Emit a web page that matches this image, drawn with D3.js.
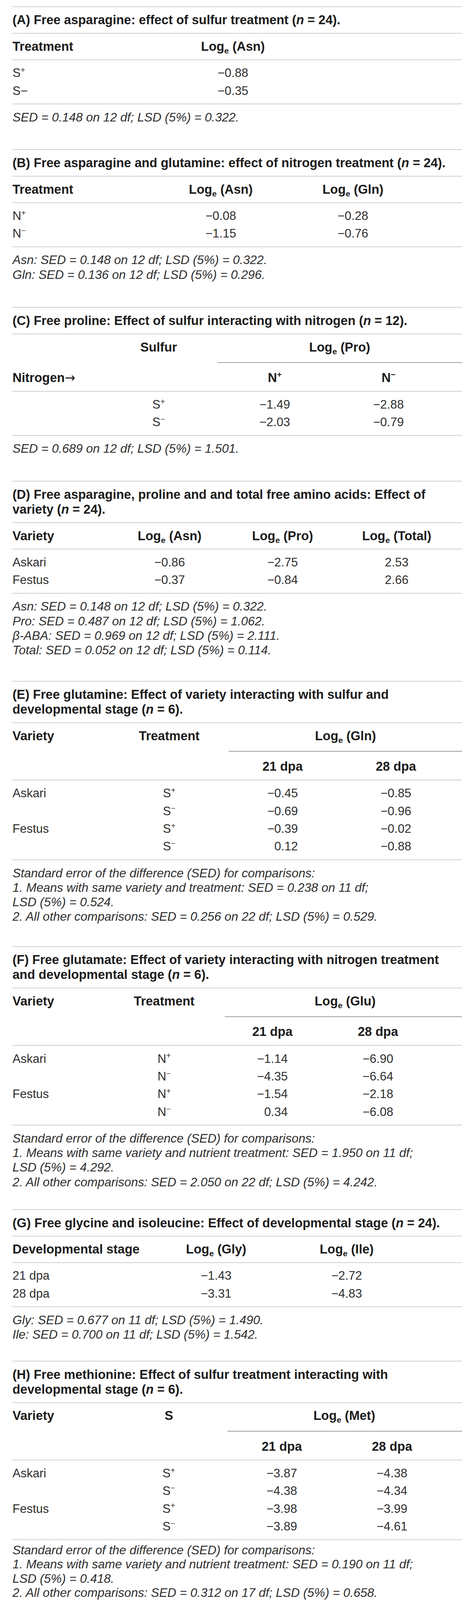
<!DOCTYPE html>
<html>
<head>
<meta charset="utf-8">
<script src="https://cdn.jsdelivr.net/npm/d3@7"></script>
<style>
  body { margin: 0; background: #fff; overflow: hidden; }
  svg { display: block; }
  text { font-family: "Liberation Sans", Arial, Helvetica, sans-serif; }
</style>
</head>
<body>
<svg id="chart" width="1200" height="4782"></svg>
<script>
// ---- data: markup ^{..} = superscript, _{..} = subscript, *..* = italic ----

// (A)
var titleA = ["(A) Free asparagine: effect of sulfur treatment (*n* = 24)."];
var headA = ["Treatment", "Log_{e} (Asn)"];
var treatA = ["S^{+}", "S\u2212"];
var asnA = [-0.88, -0.35];
var notesA = ["SED = 0.148 on 12 df; LSD (5%) = 0.322."];

// (B)
var titleB = ["(B) Free asparagine and glutamine: effect of nitrogen treatment (*n* = 24)."];
var headB = ["Treatment", "Log_{e} (Asn)", "Log_{e} (Gln)"];
var treatB = ["N^{+}", "N^{\u2212}"];
var asnB = [-0.08, -1.15];
var glnB = [-0.28, -0.76];
var notesB = ["Asn: SED = 0.148 on 12 df; LSD (5%) = 0.322.",
              "Gln: SED = 0.136 on 12 df; LSD (5%) = 0.296."];

// (C)
var titleC = ["(C) Free proline: Effect of sulfur interacting with nitrogen (*n* = 12)."];
var headC1 = ["Sulfur", "Log_{e} (Pro)"];
var headC2 = ["Nitrogen\u2192", "N^{+}", "N^{\u2212}"];
var sulfurC = ["S^{+}", "S^{\u2212}"];
var proNplusC = [-1.49, -2.03];
var proNminusC = [-2.88, -0.79];
var notesC = ["SED = 0.689 on 12 df; LSD (5%) = 1.501."];

// (D)
var titleD = ["(D) Free asparagine, proline and and total free amino acids: Effect of",
              "variety (*n* = 24)."];
var headD = ["Variety", "Log_{e} (Asn)", "Log_{e} (Pro)", "Log_{e} (Total)"];
var varietyD = ["Askari", "Festus"];
var asnD = [-0.86, -0.37];
var proD = [-2.75, -0.84];
var totalD = [2.53, 2.66];
var notesD = ["Asn: SED = 0.148 on 12 df; LSD (5%) = 0.322.",
              "Pro: SED = 0.487 on 12 df; LSD (5%) = 1.062.",
              "\u03B2-ABA: SED = 0.969 on 12 df; LSD (5%) = 2.111.",
              "Total: SED = 0.052 on 12 df; LSD (5%) = 0.114."];

// (E)
var titleE = ["(E) Free glutamine: Effect of variety interacting with sulfur and",
              "developmental stage (*n* = 6)."];
var headE1 = ["Variety", "Treatment", "Log_{e} (Gln)"];
var stageHead = ["21 dpa", "28 dpa"];
var varietyE = ["Askari", "", "Festus", ""];
var treatE = ["S^{+}", "S^{\u2212}", "S^{+}", "S^{\u2212}"];
var gln21E = [-0.45, -0.69, -0.39, 0.12];
var gln28E = [-0.85, -0.96, -0.02, -0.88];
var notesE = ["Standard error of the difference (SED) for comparisons:",
              "1. Means with same variety and treatment: SED = 0.238 on 11 df;",
              "LSD (5%) = 0.524.",
              "2. All other comparisons: SED = 0.256 on 22 df; LSD (5%) = 0.529."];

// (F)
var titleF = ["(F) Free glutamate: Effect of variety interacting with nitrogen treatment",
              "and developmental stage (*n* = 6)."];
var headF1 = ["Variety", "Treatment", "Log_{e} (Glu)"];
var varietyF = ["Askari", "", "Festus", ""];
var treatF = ["N^{+}", "N^{\u2212}", "N^{+}", "N^{\u2212}"];
var glu21F = [-1.14, -4.35, -1.54, 0.34];
var glu28F = [-6.90, -6.64, -2.18, -6.08];
var notesF = ["Standard error of the difference (SED) for comparisons:",
              "1. Means with same variety and nutrient treatment: SED = 1.950 on 11 df;",
              "LSD (5%) = 4.292.",
              "2. All other comparisons: SED = 2.050 on 22 df; LSD (5%) = 4.242."];

// (G)
var titleG = ["(G) Free glycine and isoleucine: Effect of developmental stage (*n* = 24)."];
var headG = ["Developmental stage", "Log_{e} (Gly)", "Log_{e} (Ile)"];
var stageG = ["21 dpa", "28 dpa"];
var glyG = [-1.43, -3.31];
var ileG = [-2.72, -4.83];
var notesG = ["Gly: SED = 0.677 on 11 df; LSD (5%) = 1.490.",
              "Ile: SED = 0.700 on 11 df; LSD (5%) = 1.542."];

// (H)
var titleH = ["(H) Free methionine: Effect of sulfur treatment interacting with",
              "developmental stage (*n* = 6)."];
var headH1 = ["Variety", "S", "Log_{e} (Met)"];
var varietyH = ["Askari", "", "Festus", ""];
var treatH = ["S^{+}", "S^{\u2212}", "S^{+}", "S^{\u2212}"];
var met21H = [-3.87, -4.38, -3.98, -3.89];
var met28H = [-4.38, -4.34, -3.99, -4.61];
var notesH = ["Standard error of the difference (SED) for comparisons:",
              "1. Means with same variety and nutrient treatment: SED = 0.190 on 11 df;",
              "LSD (5%) = 0.418.",
              "2. All other comparisons: SED = 0.312 on 17 df; LSD (5%) = 0.658."];

// ---- drawing ----
var W = 1200, FULL_H = 4782;
// the visible window can be shorter than the full figure: fit the layout vertically
var H = Math.min(FULL_H, window.innerHeight || FULL_H);
var Y = d3.scaleLinear().domain([0, FULL_H]).range([0, H]);

var svg = d3.select("#chart").attr("width", W).attr("height", H);
var LEFT = 32, RIGHT = 1182;
var FS = 31, FSB = 32.5, FSI = 31.5;
var BASE = 10;      // baseline below visual centre
var ROW = 53;

svg.append("rect").attr("width", W).attr("height", H).attr("fill", "#fff");

var fmt = function(v) {
    return (v < 0 ? "\u2212" : "") + Math.abs(v).toFixed(2);
};

// write simple markup into a <text> as tspans
function rich(t, str, fs) {
    var parts = str.split(/(\^\{[^}]*\}|_\{[^}]*\}|\*[^*]*\*|\u2192)/).filter(function(p) { return p.length; });
    var off = 0;
    parts.forEach(function(p) {
        var s = t.append("tspan");
        if (p[0] == "^" && p[1] == "{") {
            s.attr("font-size", fs * 0.64).attr("dy", -0.36 * fs - off).text(p.slice(2, -1));
            off = -0.36 * fs;
        } else if (p[0] == "_" && p[1] == "{") {
            s.attr("font-size", fs * 0.65).attr("dy", 0.22 * fs - off).text(p.slice(2, -1));
            off = 0.22 * fs;
        } else if (p[0] == "*") {
            s.attr("font-style", "italic").attr("dy", -off).text(p.slice(1, -1));
            off = 0;
        } else if (p == "\u2192") {
            s.attr("font-family", "DejaVu Sans").attr("font-weight", "normal").attr("dy", -off).text(p);
            off = 0;
        } else {
            s.attr("dy", -off).text(p);
            off = 0;
        }
    });
    return t;
}

// y is given in full-figure coordinates
function label(g, str, x, y, o) {
    o = o || {};
    var fs = o.bold ? FSB : (o.italic ? FSI : FS);
    var t = g.append("text")
        .attr("x", x).attr("y", Y(y) + BASE)
        .attr("text-anchor", o.anchor || "start")
        .attr("font-size", fs)
        .attr("font-weight", o.bold ? "bold" : null)
        .attr("font-style", o.italic ? "italic" : null)
        .attr("fill", o.bold ? "#1c1c1c" : "#2e2e2e");
    return rich(t, str, fs);
}

function hline(g, y, x0, dark) {
    g.append("line")
        .attr("x1", x0 == null ? LEFT : x0).attr("x2", RIGHT)
        .attr("y1", Y(y)).attr("y2", Y(y))
        .attr("stroke", dark ? "#666" : "#cfcfcf")
        .attr("stroke-width", dark ? 1.3 : 2);
}

function drawTable(c) {
    var g = svg.append("g");
    var y = c.top;
    hline(g, y);
    y += 41;
    c.title.forEach(function(line, i) {
        label(g, line, LEFT, y + i * 44.5, { bold: true });
    });
    y += (c.title.length - 1) * 44.5 + 38.5;
    hline(g, y);

    var xcol = d3.scaleOrdinal().domain(c.keys).range(c.xs);

    y += 40.5;
    c.head1.forEach(function(h) {
        label(g, h[1], h[0] == "left" ? LEFT : xcol(h[0]), y,
              { bold: true, anchor: h[0] == "left" ? "start" : "middle" });
    });
    if (c.head2) {
        y += 45;
        hline(g, y, c.spanX0, true);
        y += 46.5;
        c.head2.forEach(function(h) {
            label(g, h[1], h[0] == "left" ? LEFT : xcol(h[0]), y,
                  { bold: true, anchor: h[0] == "left" ? "start" : "middle" });
        });
        y += 39.5;
    } else {
        y += 38.5;
    }
    hline(g, y);

    var n = c.textCols[0][1].length;
    var yrow = d3.scaleLinear().domain([0, n - 1]).range([y + 40, y + 40 + (n - 1) * ROW]);

    c.textCols.forEach(function(col) {
        col[1].forEach(function(s, i) {
            if (!s) return;
            label(g, s, col[0] == "left" ? LEFT : xcol(col[0]), yrow(i),
                  { anchor: col[0] == "left" ? "start" : "middle" });
        });
    });

    // numeric columns: centred block, right aligned like the source
    c.numCols.forEach(function(col) {
        var texts = g.selectAll(null).data(col[1]).enter().append("text")
            .attr("y", function(d, i) { return Y(yrow(i)) + BASE; })
            .attr("font-size", FS)
            .attr("fill", "#2e2e2e")
            .attr("text-anchor", "end")
            .text(fmt);
        var w = d3.max(texts.nodes(), function(nd) { return nd.getComputedTextLength(); });
        texts.attr("x", xcol(col[0]) + w / 2);
    });

    y = yrow(n - 1) + 39;
    hline(g, y);

    y += (c.noteGap || 40.5);
    c.notes.forEach(function(s, i) {
        label(g, s, LEFT, y + i * (c.noteStep || 43.5), { italic: true });
    });
}

drawTable({
    top: 20, title: titleA,
    keys: ["asn"], xs: [596],
    head1: [["left", headA[0]], ["asn", headA[1]]],
    textCols: [["left", treatA]],
    numCols: [["asn", asnA]],
    notes: notesA
});

drawTable({
    top: 447, title: titleB,
    keys: ["asn", "gln"], xs: [565, 903],
    head1: [["left", headB[0]], ["asn", headB[1]], ["gln", headB[2]]],
    textCols: [["left", treatB]],
    numCols: [["asn", asnB], ["gln", glnB]],
    notes: notesB
});

drawTable({
    top: 918.5, title: titleC,
    keys: ["s", "pro", "np", "nm"], xs: [406, 869, 703, 994],
    head1: [["s", headC1[0]], ["pro", headC1[1]]],
    spanX0: 557,
    head2: [["left", headC2[0]], ["np", headC2[1]], ["nm", headC2[2]]],
    textCols: [["s", sulfurC]],
    numCols: [["np", proNplusC], ["nm", proNminusC]],
    notes: notesC
});

drawTable({
    top: 1438, title: titleD,
    keys: ["asn", "pro", "tot"], xs: [434, 723, 1015],
    head1: [["left", headD[0]], ["asn", headD[1]], ["pro", headD[2]], ["tot", headD[3]]],
    textCols: [["left", varietyD]],
    numCols: [["asn", asnD], ["pro", proD], ["tot", totalD]],
    notes: notesD
});

drawTable({
    top: 2036, title: titleE,
    keys: ["tr", "gln", "d21", "d28"], xs: [433, 884, 723, 1013],
    head1: [["left", headE1[0]], ["tr", headE1[1]], ["gln", headE1[2]]],
    spanX0: 585,
    head2: [["d21", stageHead[0]], ["d28", stageHead[1]]],
    textCols: [["left", varietyE], ["tr", treatE]],
    numCols: [["d21", gln21E], ["d28", gln28E]],
    notes: notesE
});

drawTable({
    top: 2829, title: titleF,
    keys: ["tr", "glu", "d21", "d28"], xs: [420, 883, 697, 967],
    head1: [["left", headF1[0]], ["tr", headF1[1]], ["glu", headF1[2]]],
    spanX0: 575,
    head2: [["d21", stageHead[0]], ["d28", stageHead[1]]],
    textCols: [["left", varietyF], ["tr", treatF]],
    numCols: [["d21", glu21F], ["d28", glu28F]],
    notes: notesF
});

drawTable({
    top: 3615, title: titleG,
    keys: ["gly", "ile"], xs: [553, 887],
    head1: [["left", headG[0]], ["gly", headG[1]], ["ile", headG[2]]],
    textCols: [["left", stageG]],
    numCols: [["gly", glyG], ["ile", ileG]],
    notes: notesG
});

drawTable({
    top: 4068, title: titleH,
    keys: ["s", "met", "d21", "d28"], xs: [432, 881, 721, 1003],
    head1: [["left", headH1[0]], ["s", headH1[1]], ["met", headH1[2]]],
    spanX0: 582,
    head2: [["d21", stageHead[0]], ["d28", stageHead[1]]],
    textCols: [["left", varietyH], ["s", treatH]],
    numCols: [["d21", met21H], ["d28", met28H]],
    notes: notesH, noteGap: 32, noteStep: 42.5
});
</script>
</body>
</html>
